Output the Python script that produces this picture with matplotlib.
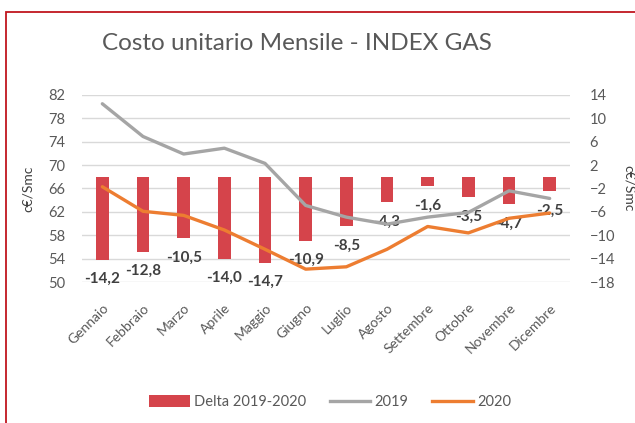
#!/usr/bin/env python3
"""Costo unitario Mensile - INDEX GAS"""
import matplotlib
matplotlib.use('Agg')
import matplotlib.pyplot as plt
from matplotlib.patches import Rectangle, Patch
from matplotlib.lines import Line2D
import numpy as np

MONTHS = ['Gennaio', 'Febbraio', 'Marzo', 'Aprile', 'Maggio', 'Giugno',
          'Luglio', 'Agosto', 'Settembre', 'Ottobre', 'Novembre', 'Dicembre']
COST_2019 = [80.5, 74.9, 71.9, 72.9, 70.3, 63.1, 61.1, 59.9, 61.1, 61.9, 65.6, 64.3]
COST_2020 = [66.3, 62.1, 61.4, 58.9, 55.6, 52.2, 52.6, 55.6, 59.5, 58.4, 60.9, 61.8]
DELTA = [-14.2, -12.8, -10.5, -14.0, -14.7, -10.9, -8.5, -4.3, -1.6, -3.5, -4.7, -2.5]

RED, GRAY, ORANGE = '#d5444b', '#a5a5a5', '#ed7d31'
TXT, LBL, GRID = '#595959', '#404040', '#d9d9d9'

plt.rcParams['font.family'] = ['Lato', 'DejaVu Sans']

fig = plt.figure(figsize=(6.35, 4.23), dpi=100)
fig.patches.append(Rectangle((6 / 635, -0.1), 1.2, 1 - 12 / 423 + 0.1,
                             transform=fig.transFigure, fill=False,
                             edgecolor='#c0161f', lw=1.3))

ax2 = fig.add_axes([82 / 635, 1 - 282 / 423, 488 / 635, 187 / 423])
ax = ax2.twinx()
ax2.yaxis.tick_right()
ax2.yaxis.set_label_position('right')
ax.yaxis.tick_left()
ax.yaxis.set_label_position('left')
ax.set_zorder(ax2.get_zorder() + 1)
ax.patch.set_visible(False)

x = np.arange(len(MONTHS))
ax2.bar(x, DELTA, width=0.31, color=RED, zorder=2)
for xi, d in zip(x, DELTA):
    ax2.annotate(f'{d:.1f}'.replace('.', ','), (xi, d), xytext=(0, -14),
                 textcoords='offset points', ha='center', va='center',
                 fontsize=11, fontweight='bold', color=LBL)
ax2.set_ylim(-18, 14)
ax2.set_yticks(np.arange(-18, 15, 4))
ax2.grid(True, axis='y', color=GRID, lw=1)
ax2.set_axisbelow(True)

ax.plot(x, COST_2019, color=GRAY, lw=2.4, solid_capstyle='round')
ax.plot(x, COST_2020, color=ORANGE, lw=2.4, solid_capstyle='round')
ax.set_ylim(50, 82)
ax.set_yticks(np.arange(50, 83, 4))
ax.set_xlim(-0.5, len(MONTHS) - 0.5)

ax2.set_xticks(x)
ax2.set_xticklabels(MONTHS, rotation=45, ha='right', rotation_mode='anchor')

for a in (ax, ax2):
    for sp in a.spines.values():
        sp.set_visible(False)
    a.tick_params(length=0, colors=TXT, labelsize=10.5)
ax2.tick_params(axis='x', labelsize=10, pad=14)
ax.tick_params(axis='y', pad=12)
ax2.tick_params(axis='y', pad=14)

ax.set_ylabel('c€/Smc', color=LBL, fontsize=10, labelpad=10)
ax2.set_ylabel('c€/Smc', color=LBL, fontsize=10, rotation=-90, labelpad=14)

fig.text(297 / 635, 1 - 44 / 423, 'Costo unitario Mensile - INDEX GAS',
         ha='center', va='center', fontsize=17.5, color=TXT)

handles = [Patch(facecolor=RED), Line2D([], [], color=GRAY, lw=2.4),
           Line2D([], [], color=ORANGE, lw=2.4)]
fig.legend(handles, ['Delta 2019-2020', '2019', '2020'], loc='center',
           bbox_to_anchor=(330 / 635, 1 - 402 / 423), ncol=3, frameon=False,
           fontsize=10.5, labelcolor=TXT, handlelength=2.8, handleheight=0.8,
           handletextpad=0.3, columnspacing=1.6)

fig.savefig('out.png', dpi=100, facecolor='white')
